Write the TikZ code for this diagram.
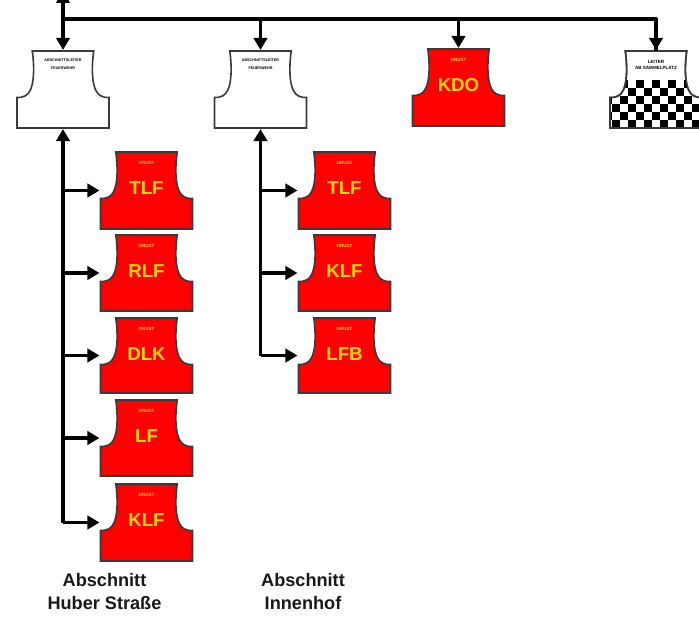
\documentclass[tikz,border=0pt]{standalone}
\usepackage{fontspec}
\setmainfont{Liberation Sans}
\usetikzlibrary{arrows.meta}
\definecolor{vestred}{HTML}{FF0000}
\definecolor{vestyellow}{HTML}{FFD800}
\definecolor{vestedge}{HTML}{3A3A3A}
\tikzset{
  vestoutline/.style={draw=vestedge,line width=1.2pt,line join=miter},
  vestanchor/.style={inner sep=0pt,outer sep=0pt,minimum width=69pt},
  tinytext/.style={inner sep=0pt,align=center,font=\bfseries\fontsize{2.8}{5.8}\selectfont},
  lottext/.style={inner sep=0pt,align=center,font=\bfseries\fontsize{3.4}{5}\selectfont},
  redtiny/.style={inner sep=0pt,text=vestyellow,font=\bfseries\fontsize{3.4}{3.4}\selectfont},
  biglabel/.style={inner sep=0pt,text=vestyellow,font=\bfseries\fontsize{14}{14}\selectfont},
  link/.style={line width=2.9pt,draw=black},
  trunk/.style={line width=2.3pt,draw=black},
  arrowlink/.style={link,-{Triangle[width=10pt,length=9pt]},shorten >=0.8pt},
  trunkarrow/.style={trunk,-{Triangle[width=10pt,length=9pt]},shorten >=0.8pt},
  caption/.style={align=center,text=black!90,font=\bfseries\fontsize{13.6}{17.2}\selectfont}
}
% outline of a vest: #1 centre x, #2 top y, #3 height
\newcommand{\vestpath}[3]{
  (#1-30.7,#2) -- (#1+30.7,#2)
  .. controls (#1+28,#2+20) and (#1+29,#2+41) .. (#1+38,#2+45)
  .. controls (#1+41,#2+46.5) and (#1+43,#2+46.5) .. (#1+46,#2+46.5)
  -- (#1+46,#2+#3) -- (#1-46,#2+#3) -- (#1-46,#2+46.5)
  .. controls (#1-43,#2+46.5) and (#1-41,#2+46.5) .. (#1-38,#2+45)
  .. controls (#1-29,#2+41) and (#1-28,#2+20) .. (#1-30.7,#2) -- cycle
}
% #1 name, #2 cx, #3 top, #4 height, #5 label
\newcommand{\redvest}[5]{
  \path[fill=vestred,vestoutline] \vestpath{#2}{#3}{#4};
  \node[vestanchor,minimum height=#4*0.75pt] (#1) at (#2,#3+#4/2) {};
  \node[biglabel] (#1-l) at (#2,#3+36.5) {#5};
  \node[redtiny] (#1-t) at (#2,#3+10.5) {GRUST};
}
\begin{document}
\begin{tikzpicture}[x=0.75pt,y=-0.75pt]
\useasboundingbox (0,0) rectangle (699,617);
\fill[white] (0,0) rectangle (699,617);
\clip (0,0) rectangle (699,617);

% white section vests
\path[fill=white,vestoutline] \vestpath{63}{51}{77};
\node[vestanchor,minimum height=57.75pt] (a1) at (63,89.5) {};
\node[tinytext] (a1-t) at (63,64) {ABSCHNITTSLEITER\\FEUERWEHR};
\path[fill=white,vestoutline] \vestpath{260.5}{51}{77};
\node[vestanchor,minimum height=57.75pt] (a2) at (260.5,89.5) {};
\node[tinytext] (a2-t) at (260.5,64) {ABSCHNITTSLEITER\\FEUERWEHR};

\redvest{kdo}{458.5}{49}{77}{KDO}

% assembly point vest
\path[fill=white,vestoutline] \vestpath{656}{51}{77};
\begin{scope}
  \clip \vestpath{656}{51}{77};
  \foreach \r in {0,...,5}{
    \foreach \k in {-4,...,5}{
      \fill[black] ({636+16*\k+8*mod(\r,2)},{80+8*\r}) rectangle +(8,8);
    }
  }
\end{scope}
\path[draw=vestedge,line width=1.2pt] \vestpath{656}{51}{77};
\node[vestanchor,minimum height=57.75pt] (lot) at (656,89.5) {};
\node[lottext] (lot-t) at (656,65) {LEITER\\AB SAMMELPLATZ};

% left column
\redvest{l1}{146.5}{152}{77}{TLF}
\redvest{l2}{146.5}{235}{76}{RLF}
\redvest{l3}{146.5}{318}{75}{DLK}
\redvest{l4}{146.5}{400}{76}{LF}
\redvest{l5}{146.5}{484}{77}{KLF}
% middle column
\redvest{m1}{344.5}{152}{77}{TLF}
\redvest{m2}{344.5}{235}{76}{KLF}
\redvest{m3}{344.5}{318}{75}{LFB}

% top bus
\coordinate (topend) at (63,-9);
\coordinate (busleft) at (63,19);
\draw[arrowlink,shorten >=0pt] (busleft) -- (topend);
\draw[link,line join=round] (busleft) -- (lot.north |- busleft) -- (lot.north);
\draw[arrowlink] (lot.north |- busleft) -- (lot.north);
\draw[arrowlink] (a1.north |- busleft) -- (a1.north);
\draw[arrowlink] (a2.north |- busleft) -- (a2.north);
\draw[arrowlink] (kdo.north |- busleft) -- (kdo.north);

% trunks
\draw[trunkarrow] (a1.south |- l5.west) -- (a1.south);
\draw[trunkarrow] (a2.south |- m3.west) -- (a2.south);
\foreach \n in {l1,l2,l3,l4,l5}{
  \draw[arrowlink] (a1.south |- \n.west) -- (\n.west);
}
\foreach \n in {m1,m2,m3}{
  \draw[arrowlink] (a2.south |- \n.west) -- (\n.west);
}

% captions
\node[caption] (c1) at (104.5,591.5) {Abschnitt\\Huber Straße};
\node[caption] (c2) at (303,591.5) {Abschnitt\\Innenhof};
\end{tikzpicture}
\end{document}
